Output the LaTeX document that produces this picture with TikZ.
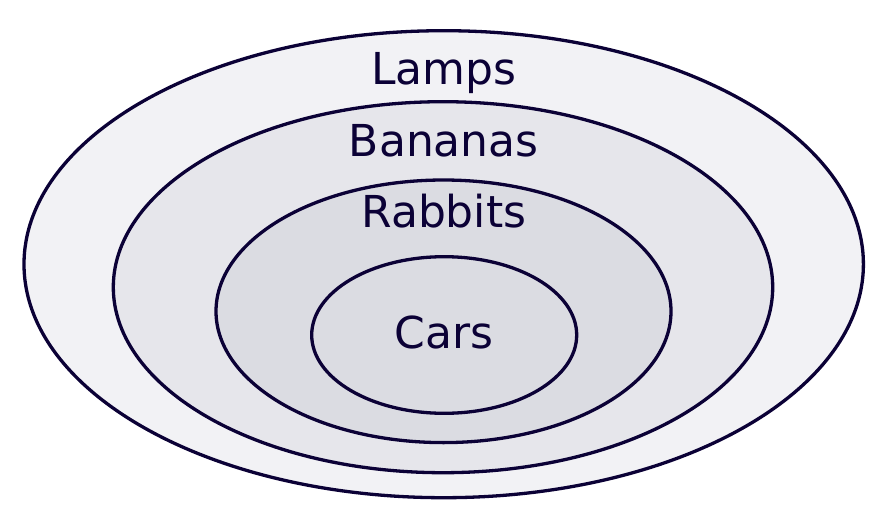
\documentclass[tikz,border=0pt]{standalone}
\usepackage{fontspec}
\setmainfont{DejaVu Sans}
\definecolor{ink}{HTML}{0B0136}
\definecolor{fillA}{HTML}{F2F2F5}
\definecolor{fillB}{HTML}{E6E6EB}
\definecolor{fillC}{HTML}{DBDCE2}
\begin{document}
\begin{tikzpicture}[x=1pt,y=-1pt,
  setring/.style={draw=ink,line width=3.3pt},
  lab/.style={text=ink,font=\fontsize{44}{50}\selectfont,inner sep=0pt,anchor=base}]
\useasboundingbox (0,0) rectangle (888,519);
\path[setring,fill=fillA] (443.7,264.2) ellipse [x radius=419.7,y radius=233.5];
\path[setring,fill=fillB] (443,287.2) ellipse [x radius=329.7,y radius=185.5];
\path[setring,fill=fillC] (443.5,311.3) ellipse [x radius=227.5,y radius=131.3];
\path[setring,fill=fillC] (444.2,335) ellipse [x radius=132.5,y radius=78.3];
\node[lab] (lamps) at (443.8,84) {Lamps};
\node[lab] (bananas) at (443.8,156.5) {Bananas};
\node[lab] (rabbits) at (443.8,227.5) {Rabbits};
\node[lab] (cars) at (443.8,348) {Cars};
\end{tikzpicture}
\end{document}
